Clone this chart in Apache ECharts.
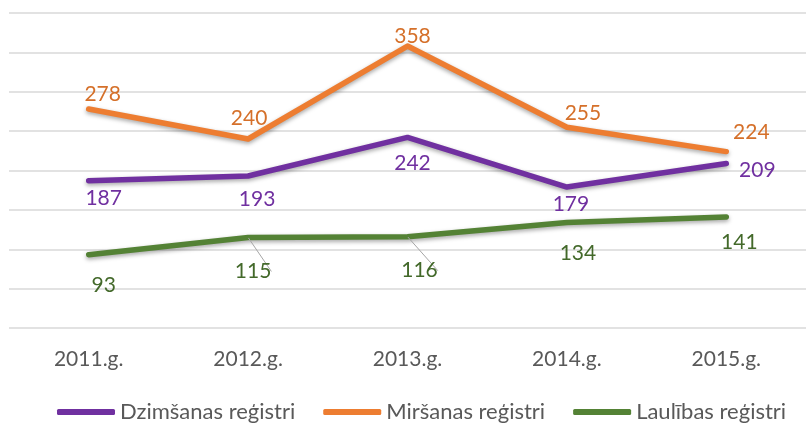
<!DOCTYPE html>
<html>
<head>
<meta charset="utf-8">
<script src="https://cdn.jsdelivr.net/npm/echarts@6/dist/echarts.min.js"></script>
<style>
  html, body { margin: 0; padding: 0; background: #fff; }
  #chart { width: 806px; height: 423px; }
</style>
</head>
<body>
<div id="chart"></div>
<script>
// 数据
const years = ['2011.g.', '2012.g.', '2013.g.', '2014.g.', '2015.g.']
const seriesNames = ['Dzimšanas reģistri', 'Miršanas reģistri', 'Laulības reģistri']
const birthValues = [187, 193, 242, 179, 209]
const deathValues = [278, 240, 358, 255, 224]
const marriageValues = [93, 115, 116, 134, 141]

// 标签偏移 (样式)
const birthOffsets = [[15, 17], [9, 23], [5, 26], [4, 17], [31, 7]]
const deathOffsets = [[14, -15], [1, -21], [5, -10], [16, -14], [25, -19]]
const marriageOffsets = [[15, 30], [5, 34], [12, 34], [11, 31], [13, 25]]
// 引导线 (Laulības 115, 116)
const marriageGuides = [false, true, true, false, false]

const FONT = 'Lato'

const makeSeries = (name, values, offsets, color, labelColor, guides) => ({
  name: name,
  type: 'line',
  symbol: 'circle',
  symbolSize: 1,
  showSymbol: true,
  itemStyle: { color: color },
  lineStyle: {
    color: color,
    width: 5.5,
    cap: 'round',
    join: 'round',
    shadowColor: 'rgba(0, 0, 0, 0.35)',
    shadowBlur: 4,
    shadowOffsetY: 2
  },
  data: values.map((v, i) => ({
    value: v,
    label: { offset: offsets[i] },
    labelLine: {
      show: !!(guides && guides[i]),
      lineStyle: { color: '#a6a6a6', width: 1 }
    }
  })),
  label: {
    show: true,
    position: 'inside',
    color: labelColor,
    fontFamily: FONT,
    fontSize: 21
  },
  emphasis: { disabled: true },
  animation: false
})

const chart = echarts.init(document.getElementById('chart'))

const option = {
  backgroundColor: '#fff',
  grid: {
    left: 9,
    top: 13,
    width: 812,
    height: 315
  },
  xAxis: {
    type: 'category',
    data: years,
    axisLine: { show: false },
    axisTick: { show: false },
    axisLabel: {
      color: '#595959',
      fontFamily: FONT,
      fontSize: 21,
      margin: 21
    }
  },
  yAxis: {
    type: 'value',
    min: 0,
    max: 400,
    interval: 50,
    axisLabel: { show: false },
    axisLine: { show: false },
    axisTick: { show: false },
    splitLine: { lineStyle: { color: '#d9d9d9', width: 1.5 } }
  },
  legend: {
    data: seriesNames,
    left: 52,
    top: 396,
    itemWidth: 58,
    itemHeight: 6,
    itemGap: 28,
    icon: 'roundRect',
    textStyle: {
      color: '#595959',
      fontFamily: FONT,
      fontSize: 22
    }
  },
  series: [
    makeSeries(seriesNames[0], birthValues, birthOffsets, '#7030A0', '#7030A0'),
    makeSeries(seriesNames[1], deathValues, deathOffsets, '#ED7D31', '#D5702A'),
    makeSeries(seriesNames[2], marriageValues, marriageOffsets, '#548235', '#43692A', marriageGuides)
  ]
}

chart.setOption(option)
</script>
</body>
</html>
